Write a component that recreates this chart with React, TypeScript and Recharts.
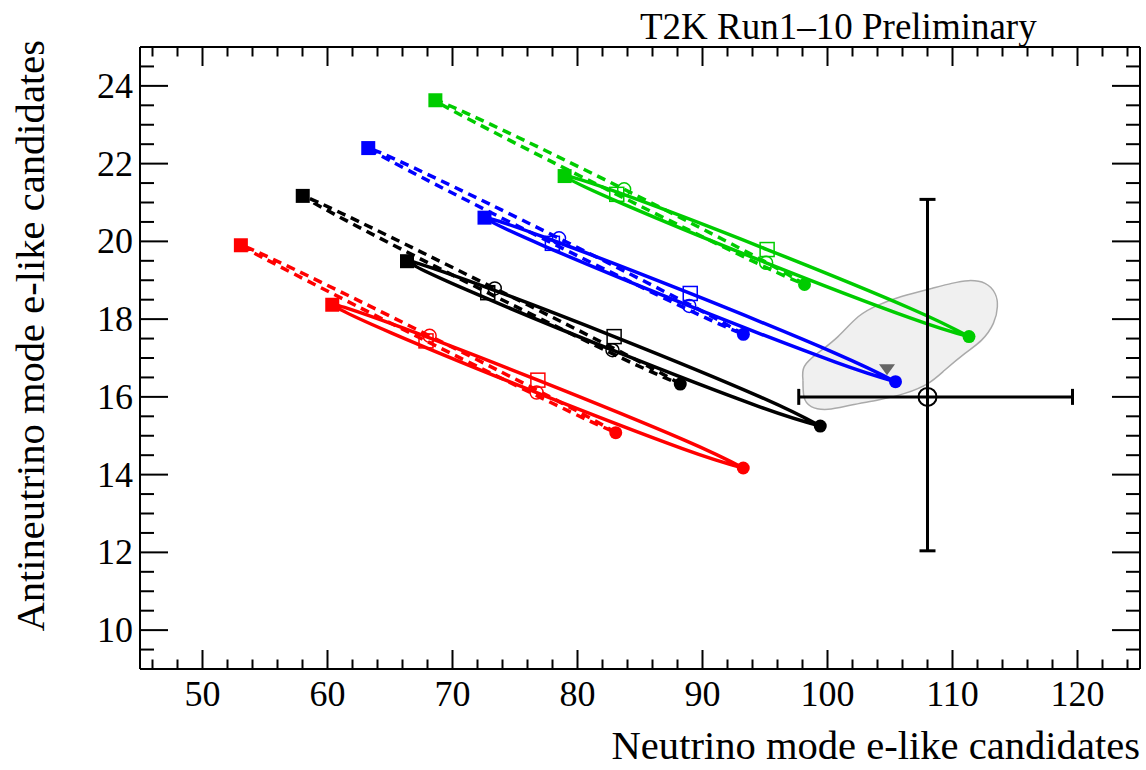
import {
  ComposedChart,
  Line,
  Scatter,
  Area,
  XAxis,
  YAxis,
  ErrorBar,
  Customized,
} from "recharts";

type Pt = { x: number; y: number };

// each loop runs over deltaCP: -pi/2, -pi/4, 0, pi/4, pi/2, 3pi/4, pi, -3pi/4, -pi/2
const redSolid: Pt[] = [
  { x: 93.26, y: 14.17 }, { x: 88.39, y: 14.67 }, { x: 76.73, y: 16.11 },
  { x: 65.14, y: 17.64 }, { x: 60.38, y: 18.37 }, { x: 65.21, y: 17.87 },
  { x: 76.83, y: 16.43 }, { x: 88.46, y: 14.9 }, { x: 93.26, y: 14.17 },
];
const redDashed: Pt[] = [
  { x: 83.06, y: 15.08 }, { x: 78.76, y: 15.84 }, { x: 68.17, y: 17.57 },
  { x: 57.55, y: 19.25 }, { x: 53.07, y: 19.9 }, { x: 57.34, y: 19.16 },
  { x: 67.88, y: 17.44 }, { x: 78.55, y: 15.75 }, { x: 83.06, y: 15.08 },
];
const blackSolid: Pt[] = [
  { x: 99.42, y: 15.25 }, { x: 94.52, y: 15.75 }, { x: 82.8, y: 17.2 },
  { x: 71.15, y: 18.75 }, { x: 66.36, y: 19.49 }, { x: 71.24, y: 18.99 },
  { x: 82.93, y: 17.55 }, { x: 94.61, y: 16.0 }, { x: 99.42, y: 15.25 },
];
const blackDashed: Pt[] = [
  { x: 88.22, y: 16.33 }, { x: 83.98, y: 17.07 }, { x: 73.38, y: 18.79 },
  { x: 62.63, y: 20.49 }, { x: 58.02, y: 21.17 }, { x: 62.24, y: 20.41 },
  { x: 72.82, y: 18.68 }, { x: 83.59, y: 16.99 }, { x: 88.22, y: 16.33 },
];
const blueSolid: Pt[] = [
  { x: 105.44, y: 16.39 }, { x: 100.58, y: 16.9 }, { x: 88.94, y: 18.34 },
  { x: 77.34, y: 19.88 }, { x: 72.56, y: 20.61 }, { x: 77.4, y: 20.1 },
  { x: 89.02, y: 18.66 }, { x: 100.64, y: 17.12 }, { x: 105.44, y: 16.39 },
];
const blueDashed: Pt[] = [
  { x: 93.27, y: 17.61 }, { x: 89.05, y: 18.36 }, { x: 78.52, y: 20.08 },
  { x: 67.84, y: 21.75 }, { x: 63.26, y: 22.4 }, { x: 67.47, y: 21.66 },
  { x: 77.99, y: 19.95 }, { x: 88.68, y: 18.27 }, { x: 93.27, y: 17.61 },
];
const greenSolid: Pt[] = [
  { x: 111.32, y: 17.55 }, { x: 106.55, y: 18.04 }, { x: 95.09, y: 19.45 },
  { x: 83.68, y: 20.96 }, { x: 78.97, y: 21.68 }, { x: 83.73, y: 21.2 },
  { x: 95.17, y: 19.79 }, { x: 106.6, y: 18.28 }, { x: 111.32, y: 17.55 },
];
const greenDashed: Pt[] = [
  { x: 98.16, y: 18.89 }, { x: 94.06, y: 19.64 }, { x: 83.73, y: 21.34 },
  { x: 73.18, y: 22.99 }, { x: 68.63, y: 23.63 }, { x: 72.76, y: 22.9 },
  { x: 83.14, y: 21.21 }, { x: 93.64, y: 19.55 }, { x: 98.16, y: 18.89 },
];

// grey 1 sigma region
const contourLine: Pt[] = [
  { x: 98.04, y: 16.43 }, { x: 98.14, y: 16.78 }, { x: 99.24, y: 17.13 },
  { x: 100.84, y: 17.55 }, { x: 102.45, y: 18.06 }, { x: 104.05, y: 18.36 },
  { x: 105.92, y: 18.58 }, { x: 108.33, y: 18.79 }, { x: 109.93, y: 18.92 },
  { x: 111.27, y: 18.99 }, { x: 112.6, y: 18.92 }, { x: 113.4, y: 18.66 },
  { x: 113.59, y: 18.32 }, { x: 113.27, y: 17.89 }, { x: 112.33, y: 17.46 },
  { x: 111.0, y: 17.12 }, { x: 109.39, y: 16.69 }, { x: 108.06, y: 16.35 },
  { x: 106.18, y: 16.09 }, { x: 104.05, y: 15.92 }, { x: 101.91, y: 15.79 },
  { x: 100.04, y: 15.68 }, { x: 98.7, y: 15.75 }, { x: 98.12, y: 16.0 },
  { x: 98.04, y: 16.43 },
];
const contourX = [97.95, 98.2, 98.8, 99.5, 100.5, 101.5, 102.5, 103.5, 104.5, 105.5, 106.5, 107.5, 108.5, 109.5, 110.5, 111.5, 112.5, 113.2, 113.6];
const contourLo = [16.35, 15.93, 15.74, 15.69, 15.7, 15.76, 15.83, 15.88, 15.96, 16.03, 16.13, 16.27, 16.45, 16.72, 16.98, 17.25, 17.52, 17.85, 18.32];
const contourHi = [16.35, 16.85, 16.99, 17.2, 17.46, 17.77, 18.07, 18.27, 18.42, 18.53, 18.63, 18.72, 18.8, 18.89, 18.95, 18.99, 18.94, 18.75, 18.32];

const observed = [{ x: 108, y: 16, ex: [10.3, 11.6], ey: [3.96, 5.08] }];
const bestFit = [{ x: 104.76, y: 16.7 }];

const xTicks = [46, 48, 50, 52, 54, 56, 58, 60, 62, 64, 66, 68, 70, 72, 74, 76, 78, 80, 82, 84, 86, 88, 90, 92, 94, 96, 98, 100, 102, 104, 106, 108, 110, 112, 114, 116, 118, 120, 122, 124];
const yTicks = [9.5, 10, 10.5, 11, 11.5, 12, 12.5, 13, 13.5, 14, 14.5, 15, 15.5, 16, 16.5, 17, 17.5, 18, 18.5, 19, 19.5, 20, 20.5, 21, 21.5, 22, 22.5, 23, 23.5, 24, 24.5];

const groups = [
  { name: "red", color: "#ff0000", solid: redSolid, dashed: redDashed },
  { name: "black", color: "#000000", solid: blackSolid, dashed: blackDashed },
  { name: "blue", color: "#0000ff", solid: blueSolid, dashed: blueDashed },
  { name: "green", color: "#00cc00", solid: greenSolid, dashed: greenDashed },
];

const FONT = "Liberation Serif, Times New Roman, serif";

const BottomTick = (props: any) => {
  const { x, y, payload } = props;
  const major = payload.value % 10 === 0;
  return (
    <g>
      <line x1={x} x2={x} y1={y} y2={y - (major ? 19 : 9.5)} stroke="#000" strokeWidth={2} />
      {major && (
        <text x={x} y={y + 37} textAnchor="middle" fontSize={36} fontFamily={FONT} fill="#000">
          {payload.value}
        </text>
      )}
    </g>
  );
};

const TopTick = (props: any) => {
  const { x, y, payload } = props;
  const major = payload.value % 10 === 0;
  return <line x1={x} x2={x} y1={y} y2={y + (major ? 19 : 9.5)} stroke="#000" strokeWidth={2} />;
};

const LeftTick = (props: any) => {
  const { x, y, payload } = props;
  const major = payload.value % 2 === 0;
  return (
    <g>
      <line x1={x} x2={x + (major ? 28 : 14)} y1={y} y2={y} stroke="#000" strokeWidth={2} />
      {major && (
        <text x={x - 7} y={y + 12} textAnchor="end" fontSize={36} fontFamily={FONT} fill="#000">
          {payload.value}
        </text>
      )}
    </g>
  );
};

const RightTick = (props: any) => {
  const { x, y, payload } = props;
  const major = payload.value % 2 === 0;
  return <line x1={x} x2={x - (major ? 28 : 14)} y1={y} y2={y} stroke="#000" strokeWidth={2} />;
};

const Titles = () => (
  <g fontFamily={FONT} fill="#000">
    <text x={640} y={39} fontSize={37}>T2K Run1–10 Preliminary</text>
    <text x={1140} y={759} fontSize={40.6} textAnchor="end">Neutrino mode e-like candidates</text>
    <text x={44} y={40} fontSize={40.6} textAnchor="end" transform="rotate(-90 44 40)">
      Antineutrino mode e-like candidates
    </text>
  </g>
);

const filledSquare = (color: string) => (p: any) => (
  <rect x={p.cx - 7} y={p.cy - 7} width={14} height={14} fill={color} />
);
const openSquare = (color: string) => (p: any) => (
  <rect x={p.cx - 7} y={p.cy - 7} width={14} height={14} fill="none" stroke={color} strokeWidth={1.5} />
);
const openCircle = (color: string) => (p: any) => (
  <circle cx={p.cx} cy={p.cy} r={6.5} fill="none" stroke={color} strokeWidth={1.5} />
);
const filledCircle = (color: string) => (p: any) => (
  <circle cx={p.cx} cy={p.cy} r={6.5} fill={color} />
);

export default function App() {
  const fillData = contourX.map((x, i) => ({ x, range: [contourLo[i], contourHi[i]] }));
  const axisLine = { stroke: "#000", strokeWidth: 2 };

  return (
    <div style={{ position: "absolute", left: 0, top: 0, width: 1146, height: 770, background: "#fff" }}>
      <ComposedChart width={1146} height={770} margin={{ top: 46, right: 5, bottom: 100, left: 139 }}>
        <XAxis
          type="number"
          dataKey="x"
          domain={[45, 125]}
          ticks={xTicks}
          interval={0}
          height={1}
          tickSize={0}
          tickMargin={0}
          tickLine={false}
          tick={<BottomTick />}
          axisLine={axisLine}
          allowDataOverflow
        />
        <XAxis
          xAxisId="top"
          orientation="top"
          type="number"
          dataKey="x"
          domain={[45, 125]}
          ticks={xTicks}
          interval={0}
          height={1}
          tickSize={0}
          tickMargin={0}
          tickLine={false}
          tick={<TopTick />}
          axisLine={axisLine}
          allowDataOverflow
        />
        <YAxis
          type="number"
          dataKey="y"
          domain={[9, 25]}
          ticks={yTicks}
          interval={0}
          width={1}
          tickSize={0}
          tickMargin={0}
          tickLine={false}
          tick={<LeftTick />}
          axisLine={axisLine}
          allowDataOverflow
        />
        <YAxis
          yAxisId="right"
          orientation="right"
          type="number"
          dataKey="y"
          domain={[9, 25]}
          ticks={yTicks}
          interval={0}
          width={1}
          tickSize={0}
          tickMargin={0}
          tickLine={false}
          tick={<RightTick />}
          axisLine={axisLine}
          allowDataOverflow
        />

        <Area
          data={fillData}
          dataKey="range"
          type="monotone"
          fill="#f0f0f0"
          fillOpacity={1}
          stroke="none"
          isAnimationActive={false}
        />
        <Line
          data={contourLine}
          dataKey="y"
          type="natural"
          stroke="#aaaaaa"
          strokeWidth={1.5}
          dot={false}
          activeDot={false}
          isAnimationActive={false}
        />

        {groups.map((g) => (
          <Line
            key={g.name + "-d"}
            data={g.dashed}
            dataKey="y"
            type="natural"
            stroke={g.color}
            strokeWidth={3.5}
            strokeDasharray="9 6"
            dot={false}
            activeDot={false}
            isAnimationActive={false}
          />
        ))}
        {groups.map((g) => (
          <Line
            key={g.name + "-s"}
            data={g.solid}
            dataKey="y"
            type="natural"
            stroke={g.color}
            strokeWidth={3.5}
            dot={false}
            activeDot={false}
            isAnimationActive={false}
          />
        ))}

        {groups.map((g) => (
          <Scatter
            key={g.name + "-fs"}
            data={[g.solid[4], g.dashed[4]]}
            shape={filledSquare(g.color)}
            isAnimationActive={false}
          />
        ))}
        {groups.map((g) => (
          <Scatter
            key={g.name + "-os"}
            data={[g.solid[6], g.dashed[6]]}
            shape={openSquare(g.color)}
            isAnimationActive={false}
          />
        ))}
        {groups.map((g) => (
          <Scatter
            key={g.name + "-oc"}
            data={[g.solid[2], g.dashed[2]]}
            shape={openCircle(g.color)}
            isAnimationActive={false}
          />
        ))}
        {groups.map((g) => (
          <Scatter
            key={g.name + "-fc"}
            data={[g.solid[0], g.dashed[0]]}
            shape={filledCircle(g.color)}
            isAnimationActive={false}
          />
        ))}

        <Scatter
          data={bestFit}
          shape={(p: any) => (
            <polygon
              points={`${p.cx - 8},${p.cy - 5.5} ${p.cx + 8},${p.cy - 5.5} ${p.cx},${p.cy + 5.5}`}
              fill="#666666"
            />
          )}
          isAnimationActive={false}
        />

        <Scatter
          data={observed}
          shape={(p: any) => (
            <circle cx={p.cx} cy={p.cy} r={9} fill="none" stroke="#000" strokeWidth={2} />
          )}
          isAnimationActive={false}
        >
          <ErrorBar dataKey="ex" direction="x" width={8} stroke="#000" strokeWidth={3} />
          <ErrorBar dataKey="ey" direction="y" width={8} stroke="#000" strokeWidth={3} />
        </Scatter>

        <Customized component={Titles} />
      </ComposedChart>
    </div>
  );
}
